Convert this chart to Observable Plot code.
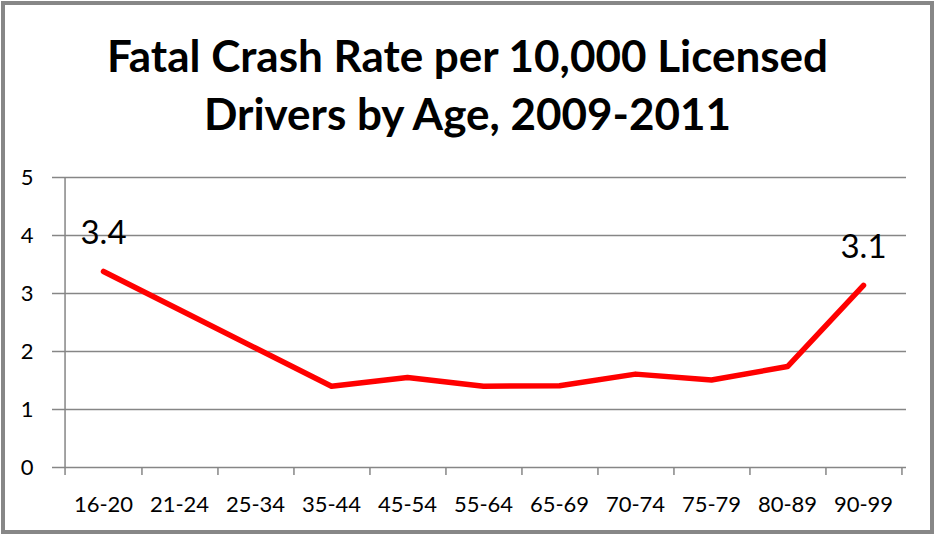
<!DOCTYPE html>
<html>
<head>
<meta charset="utf-8">
<script src="https://cdn.jsdelivr.net/npm/d3@7"></script>
<script src="https://cdn.jsdelivr.net/npm/@observablehq/plot@0.6"></script>
<style>
  html, body { margin: 0; padding: 0; background: #fff; }
  #wrap { position: relative; width: 935px; height: 535px; overflow: hidden; background: #fff; }
  #border { position: absolute; left: 1px; top: 1px; width: 933px; height: 533px; box-sizing: border-box; border: 4px solid #878787; pointer-events: none; }
  #title { position: absolute; left: 0; top: 26px; width: 935px; text-align: center; font-family: Lato, sans-serif; font-weight: bold; font-size: 44px; line-height: 58px; color: #000; }
  #chart { position: absolute; left: 0; top: 160px; }
</style>
</head>
<body>
<div id="wrap">
  <div id="title">Fatal Crash Rate per 10,000 Licensed<br>Drivers by Age, 2009-2011</div>
  <div id="chart"></div>
  <div id="border"></div>
</div>
<script>
const ageGroups = ["16-20","21-24","25-34","35-44","45-54","55-64","65-69","70-74","75-79","80-89","90-99"];
const crashRates = [3.38, 2.72, 2.06, 1.40, 1.55, 1.40, 1.41, 1.61, 1.51, 1.74, 3.14];
const yTicks = [0, 1, 2, 3, 4, 5];
const labelIndexes = [0, 10];

const data = ageGroups.map((age, i) => ({age, rate: crashRates[i]}));
const labelData = labelIndexes.map(i => data[i]);

const W = 935, H = 375, ML = 60, MR = 29, MT = 17, MB = 68;
const bw = (W - ML - MR) / ageGroups.length;
const grey = "#868686";

const chart = Plot.plot({
  width: W,
  height: H,
  marginLeft: ML,
  marginRight: MR,
  marginTop: MT,
  marginBottom: MB,
  style: {fontFamily: "Lato, sans-serif", fontSize: "22px", color: "#000", background: "transparent"},
  x: {type: "band", domain: ageGroups, padding: 0},
  y: {domain: [0, 5]},
  marks: [
    Plot.ruleY(yTicks, {stroke: grey, strokeWidth: 1.5}),
    Plot.axisY({ticks: yTicks, tickSize: 8, tickPadding: 19, stroke: grey, strokeWidth: 1.5, fill: "#000", fontSize: 22, label: null, tickFormat: d => String(d)}),
    Plot.ruleX([ageGroups[0]], {x: d => d, dx: -bw / 2, y1: -0.14, y2: 5, stroke: grey, strokeWidth: 1.5}),
    Plot.ruleX(ageGroups, {x: d => d, dx: bw / 2, y1: -0.14, y2: 0, stroke: grey, strokeWidth: 1.5}),
    Plot.axisX({tickSize: 0, tickPadding: 29, fill: "#000", fontSize: 22, label: null}),
    Plot.line(data, {x: "age", y: "rate", stroke: "#ff0000", strokeWidth: 5.5, strokeLinecap: "round", strokeLinejoin: "round"}),
    Plot.text(labelData, {x: "age", y: "rate", text: d => d.rate.toFixed(1), fontSize: 33, lineAnchor: "bottom", dy: -27, fill: "#000"})
  ]
});
document.getElementById("chart").appendChild(chart);
</script>
</body>
</html>
